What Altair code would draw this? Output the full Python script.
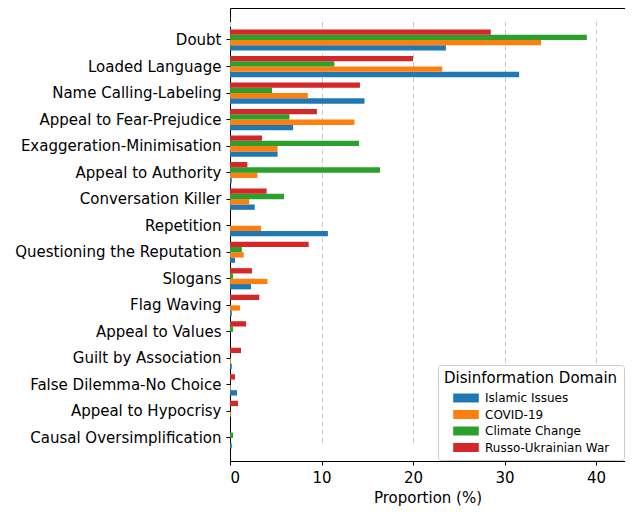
import altair as alt
import pandas as pd

categories = ["Doubt", "Loaded Language", "Name Calling-Labeling", "Appeal to Fear-Prejudice",
              "Exaggeration-Minimisation", "Appeal to Authority", "Conversation Killer", "Repetition",
              "Questioning the Reputation", "Slogans", "Flag Waving", "Appeal to Values",
              "Guilt by Association", "False Dilemma-No Choice", "Appeal to Hypocrisy",
              "Causal Oversimplification"]
series = ["Islamic Issues", "COVID-19", "Climate Change", "Russo-Ukrainian War"]
colors = ["#1f77b4", "#ff7f0e", "#2ca02c", "#d62728"]

islamic = [23.6, 31.6, 14.7, 6.9, 5.2, 0.2, 2.7, 10.7, 0.55, 2.3, 0.2, 0.0, 0.2, 0.77, 0.0, 0.2]
covid = [34.0, 23.2, 8.5, 13.6, 5.2, 3.0, 2.1, 3.4, 1.5, 4.1, 1.1, 0.0, 0.1, 0.1, 0.1, 0.0]
climate = [39.0, 11.4, 4.6, 6.5, 14.1, 16.4, 5.9, 0.0, 1.3, 0.33, 0.0, 0.33, 0.0, 0.0, 0.0, 0.33]
russo = [28.5, 20.0, 14.2, 9.5, 3.5, 1.9, 4.0, 0.0, 8.6, 2.4, 3.2, 1.76, 1.2, 0.55, 0.88, 0.0]

rows = []
for name, vals in zip(series, [islamic, covid, climate, russo]):
    for c, v in zip(categories, vals):
        rows.append({"Technique": c, "Domain": name, "Proportion": v})
df = pd.DataFrame(rows)

W = 395
H = 453
step = 26.53
r0 = 32 - step / 2

chart = alt.Chart(df).mark_bar().encode(
    y=alt.Y("Technique:N", sort=categories, title=None,
            scale=alt.Scale(domain=categories, paddingInner=0.2, paddingOuter=0.1,
                            range=[r0, r0 + 16 * step]),
            axis=alt.Axis(labelFontSize=15, labelColor="black", tickColor="black",
                          tickSize=4, labelPadding=5, domainColor="black", grid=False,
                          labelLimit=400)),
    yOffset=alt.YOffset("Domain:N", scale=alt.Scale(domain=series[::-1], paddingInner=0, paddingOuter=0)),
    x=alt.X("Proportion:Q", title="Proportion (%)",
            scale=alt.Scale(domain=[0, W / 9.15], nice=False, zero=True),
            axis=alt.Axis(values=[0, 10, 20, 30, 40], labelFontSize=15, labelColor="black",
                          titleFontSize=15, titleFontWeight="normal", titleColor="black",
                          tickColor="black", tickSize=4, labelPadding=5, domainColor="black", grid=True,
                          gridDash=[5, 3], gridColor="#c8c8c8", gridWidth=1, titlePadding=5)),
    color=alt.Color("Domain:N", scale=alt.Scale(domain=series, range=colors),
                    legend=alt.Legend(title="Disinformation Domain", orient="bottom-right",
                                      titleFontSize=15, titleFontWeight="normal", titleColor="black",
                                      labelFontSize=12, labelColor="black",
                                      symbolType="M-1.6,-0.56H1.6V0.56H-1.6Z", symbolSize=256,
                                      symbolOffset=14, labelOffset=11,
                                      symbolStrokeWidth=0, symbolOpacity=1,
                                      fillColor="white", strokeColor="#cccccc", cornerRadius=3,
                                      padding=6, offset=1, rowPadding=2.5, titlePadding=4)),
).properties(
    width=W, height=H,
    autosize=alt.AutoSizeParams(type="none"),
    padding={"left": 222, "top": 0, "right": 0, "bottom": 46},
).configure(font="DejaVu Sans").configure_view(stroke="black", strokeWidth=1)

chart.save("out.html", embed_options={"renderer": "svg", "actions": False})
